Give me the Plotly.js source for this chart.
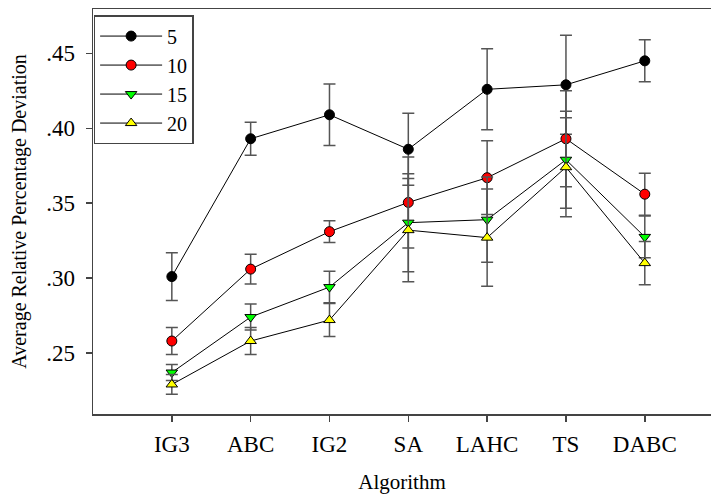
<!DOCTYPE html>
<html>
<head>
<meta charset="utf-8">
<script src="https://cdn.plot.ly/plotly-3.0.1.min.js"></script>
<style>html,body{margin:0;padding:0;overflow:hidden;background:#fff;}</style>
</head>
<body>
<div id="chart" style="width:711px;height:494px;"></div>
<script>
const categories = ["IG3", "ABC", "IG2", "SA", "LAHC", "TS", "DABC"];
const seriesNames = ["5", "10", "15", "20"];
const s5  = [0.301, 0.393, 0.409, 0.386, 0.426, 0.429, 0.445];
const e5  = [0.016, 0.011, 0.0205, 0.024, 0.027, 0.033, 0.014];
const s10 = [0.258, 0.306, 0.331, 0.3505, 0.367, 0.393, 0.356];
const e10 = [0.009, 0.010, 0.0073, 0.0304, 0.0246, 0.032, 0.014];
const s15 = [0.237, 0.274, 0.294, 0.337, 0.339, 0.379, 0.3275];
const e15 = [0.0054, 0.0087, 0.0105, 0.0327, 0.0284, 0.0324, 0.014];
const s20 = [0.229, 0.258, 0.272, 0.332, 0.327, 0.374, 0.310];
const e20 = [0.0066, 0.009, 0.011, 0.0345, 0.0324, 0.033, 0.0144];
const yTickVals = [0.25, 0.30, 0.35, 0.40, 0.45];
const yTickText = [".25", ".30", ".35", ".40", ".45"];

const font = "'Liberation Serif', 'Times New Roman', serif";
const xIdx = categories.map((c, i) => i);
const styles = [
  {symbol: "circle", color: "#000000"},
  {symbol: "circle", color: "#ff0000"},
  {symbol: "triangle-down", color: "#00ff00"},
  {symbol: "triangle-up", color: "#ffff00"}
];
const vals = [s5, s10, s15, s20];
const errs = [e5, e10, e15, e20];

const traces = vals.map((v, k) => ({
  x: xIdx, y: v, name: seriesNames[k], type: "scatter", mode: "lines+markers",
  line: {color: "#000", width: 1},
  marker: {symbol: styles[k].symbol, color: styles[k].color, size: 10, line: {color: "#000", width: 1}},
  error_y: {type: "data", array: errs[k], visible: true, color: "#555", thickness: 1.5, width: 6}
}));

const layout = {
  width: 711, height: 494,
  margin: {l: 93, r: 0, t: 9, b: 80},
  paper_bgcolor: "#fff", plot_bgcolor: "#fff",
  font: {family: font, size: 20, color: "#000"},
  showlegend: true,
  legend: {x: 0.001, y: 0.985, xanchor: "left", yanchor: "top", bordercolor: "#444", borderwidth: 1.5,
           bgcolor: "#fff", font: {family: font, size: 20, color: "#000"}, itemwidth: 62,
           tracegroupgap: 0},
  xaxis: {
    range: [-1, 6.84], tickvals: xIdx, ticktext: categories, showgrid: false, zeroline: false,
    showline: true, linecolor: "#444", linewidth: 1.5, mirror: true,
    ticks: "outside", ticklen: 6, tickcolor: "#444", tickwidth: 1.5, ticklabelstandoff: 3,
    tickfont: {family: font, size: 23, color: "#000"},
    title: {text: "Algorithm", font: {family: font, size: 21, color: "#000"}, standoff: 22}
  },
  yaxis: {
    range: [0.2093, 0.4796], tickvals: yTickVals, ticktext: yTickText, showgrid: false, zeroline: false,
    showline: true, linecolor: "#444", linewidth: 1.5,
    ticks: "outside", ticklen: 6, tickcolor: "#444", tickwidth: 1.5, ticklabelstandoff: 6,
    tickfont: {family: font, size: 23, color: "#000"},
    title: {text: "Average Relative Percentage Deviation", font: {family: font, size: 20, color: "#000"}, standoff: 14}
  }
};
Plotly.newPlot("chart", traces, layout, {displayModeBar: false, staticPlot: true});
</script>
</body>
</html>
